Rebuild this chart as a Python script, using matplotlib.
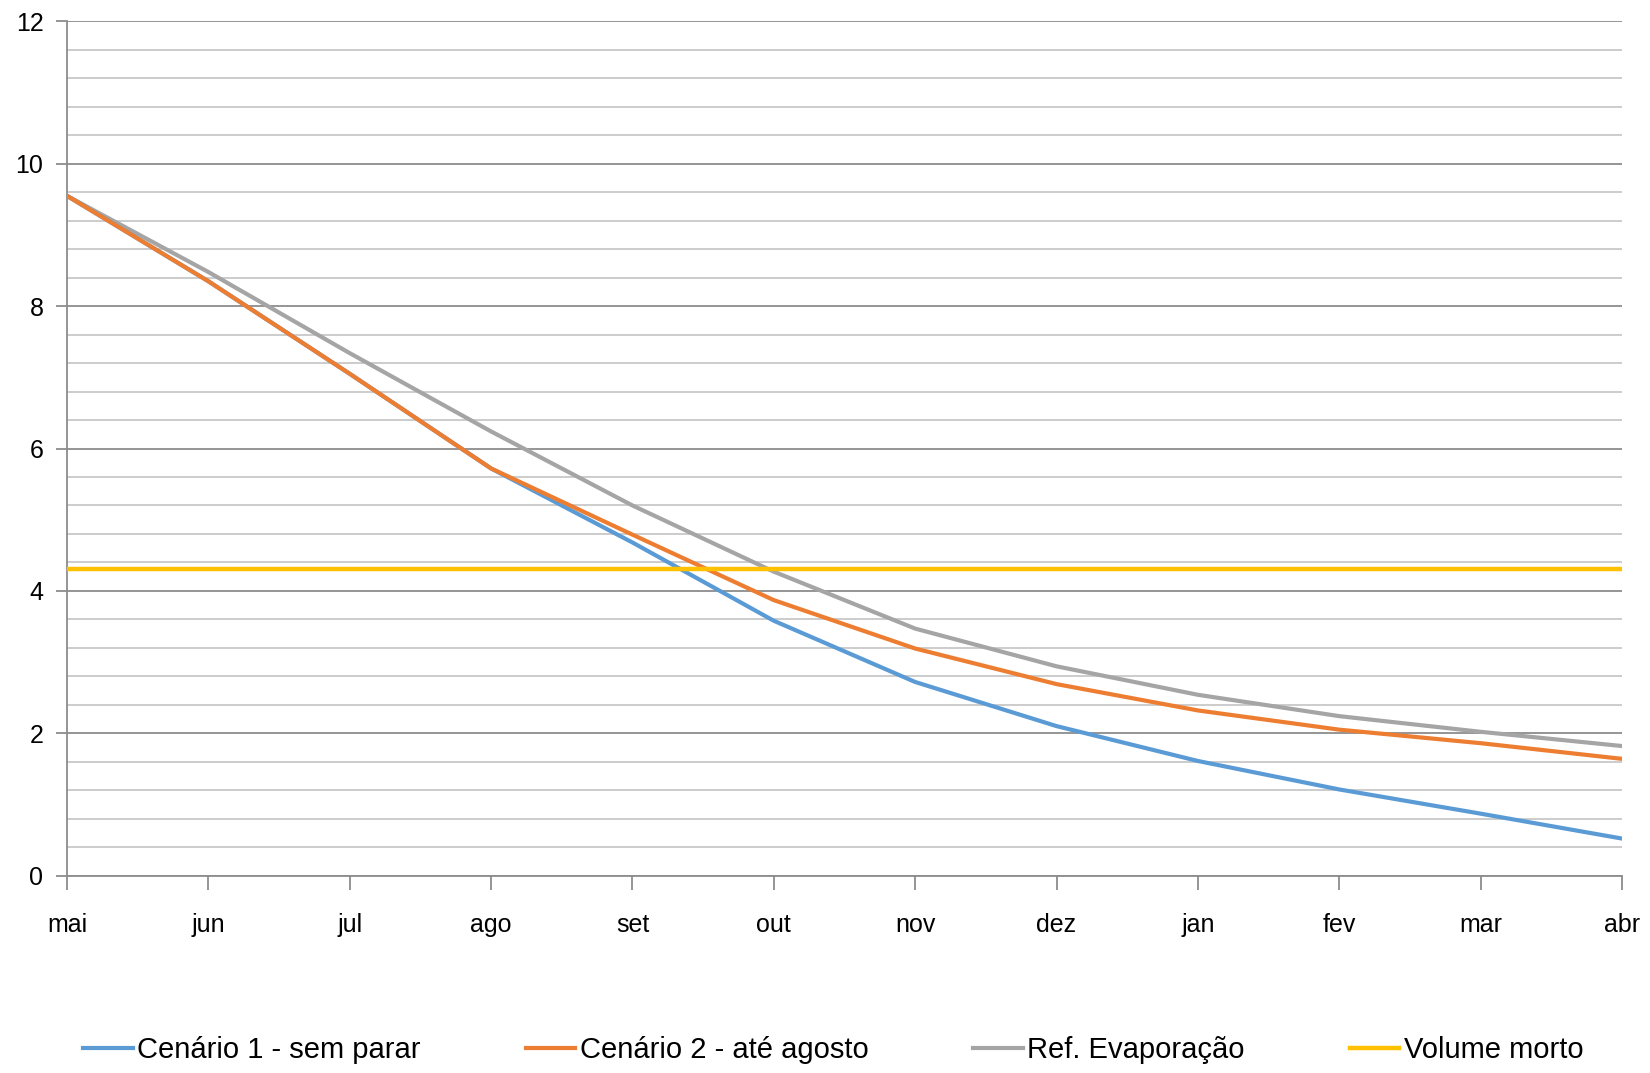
import numpy as np
import matplotlib.pyplot as plt
from matplotlib.ticker import MultipleLocator

plt.rcParams['font.family'] = ['Liberation Sans Narrow', 'Liberation Sans', 'DejaVu Sans']

meses = ['mai', 'jun', 'jul', 'ago', 'set', 'out', 'nov', 'dez', 'jan', 'fev', 'mar', 'abr']

# valores
cenario1 = [9.55, 8.35, 7.05, 5.72, 4.68, 3.58, 2.72, 2.10, 1.61, 1.21, 0.87, 0.52]
cenario2 = [9.55, 8.35, 7.05, 5.72, 4.79, 3.87, 3.19, 2.69, 2.32, 2.05, 1.86, 1.64]
ref_evap = [9.55, 8.48, 7.34, 6.24, 5.20, 4.27, 3.47, 2.94, 2.54, 2.24, 2.02, 1.82]
volume_morto = [4.31] * len(meses)

fig = plt.figure(figsize=(16.5, 10.73), dpi=100)
ax = fig.add_axes([0.0406, 0.184, 0.9424, 0.796])

x = np.arange(len(meses))
ax.plot(x, cenario1, color='#5B9BD5', lw=3, label='Cenário 1 - sem parar', zorder=4)
ax.plot(x, cenario2, color='#ED7D31', lw=3, label='Cenário 2 - até agosto', zorder=4)
ax.plot(x, ref_evap, color='#A5A5A5', lw=3, label='Ref. Evaporação', zorder=3)
ax.plot(x, volume_morto, color='#FFC000', lw=3.2, label='Volume morto', zorder=5)

ax.set_xlim(0, len(meses) - 1)
ax.set_ylim(0, 12)
ax.set_xticks(x)
ax.set_xticklabels(meses)
ax.yaxis.set_major_locator(MultipleLocator(2))
ax.yaxis.set_minor_locator(MultipleLocator(0.4))

# grade: linhas principais mais escuras, secundárias claras
ax.grid(True, which='major', axis='y', color='#8c8c8c', lw=1.3)
ax.grid(True, which='minor', axis='y', color='#c8c8c8', lw=1.3)
ax.set_axisbelow(True)

for s in ['top', 'right']:
    ax.spines[s].set_visible(False)
for s in ['left', 'bottom']:
    ax.spines[s].set_color('#8c8c8c')
    ax.spines[s].set_linewidth(1.3)

ax.tick_params(axis='x', length=10, width=1.3, color='#8c8c8c', pad=17, labelsize=18)
ax.tick_params(axis='y', which='major', length=8, width=1.3, color='#8c8c8c', pad=9, labelsize=18)
ax.tick_params(axis='y', which='minor', length=0)

fig.legend(loc='center', bbox_to_anchor=(0.505, 0.021), ncol=4, frameon=False,
           fontsize=21, handlelength=1.7, handletextpad=0.15, columnspacing=3.6)

fig.savefig('out.png', dpi=100)
